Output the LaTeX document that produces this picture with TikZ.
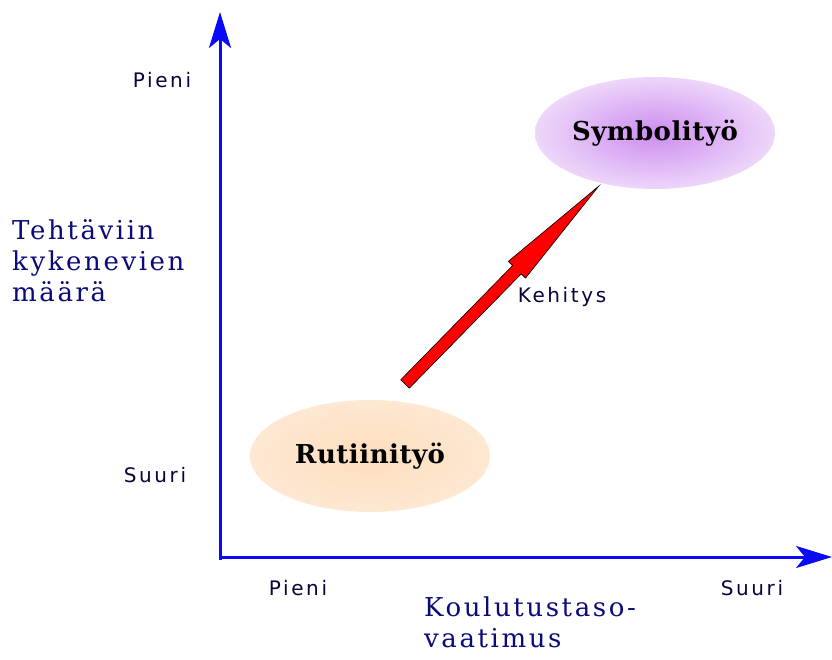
\documentclass[tikz,border=0pt]{standalone}
\usepackage{fontspec}
\setmainfont{DejaVu Serif}[LetterSpace=10]
\setsansfont{DejaVu Sans}[LetterSpace=13]
\newfontfamily\blobfont{DejaVu Serif}[LetterSpace=2]
\usetikzlibrary{positioning,calc,arrows.meta,shapes.geometric}
\definecolor{axisblue}{RGB}{10,10,250}
\definecolor{titleblue}{RGB}{10,10,120}
\definecolor{lilac}{RGB}{205,140,240}
\definecolor{peach}{RGB}{253,222,190}

\begin{document}
\begin{tikzpicture}[x=1pt, y=-1pt,
  axis/.style={draw=axisblue, line width=3pt, -{Stealth[length=36pt, width=22pt, inset=9pt]}},
  tick/.style={font=\sffamily\fontsize{20}{22}\selectfont, text=titleblue!50!black},
  title/.style={font=\fontsize{26}{31}\selectfont, text=titleblue, align=left, anchor=north west, inner sep=0pt},
  blob/.style={ellipse, minimum width=240pt, minimum height=112pt, inner sep=0pt,
    font=\blobfont\bfseries\fontsize{26}{28}\selectfont},
]
\useasboundingbox (0,0) rectangle (832,660);

% axes
\coordinate (o) at (220,560);
\coordinate (ytop) at (220,12);
\coordinate (xend) at (832,557);
\draw[axis] (o) -- (ytop);
\draw[axis] ($(o)+(-1.5,-3)$) -- (xend);

\node[tick] (ylow) at (162,80) {Pieni};
\node[tick] (yhigh) at (155,475) {Suuri};
\node[tick] (xlow) at (298,588) {Pieni};
\node[tick] (xhigh) at (752,588) {Suuri};

\node[title] (ytitle) at (12,219) {Tehtäviin\\kykenevien\\määrä};
\node[title] (xtitle) at (424,597) {Koulutustaso-\\vaatimus};

% work types
\node[blob, inner color=lilac, outer color=lilac!35] (symb) at (655,133) {Symbolityö};
\node[blob, inner color=peach, outer color=peach!70] (rut) at (370,456) {Rutiinityö};

% development arrow
\coordinate (tail) at (405,384);
\coordinate (tip) at (599,185);
\begin{scope}[shift={(tail)}, rotate=45.6]
  \filldraw[fill=red, draw=black, line width=0.6pt]
    (0,-6) -- (160,-6) -- (160,-12) -- (277,0) -- (160,12) -- (160,6) -- (0,6) -- cycle;
\end{scope}
\node[tick] (dev) at (562,297) {Kehitys};
\end{tikzpicture}
\end{document}
